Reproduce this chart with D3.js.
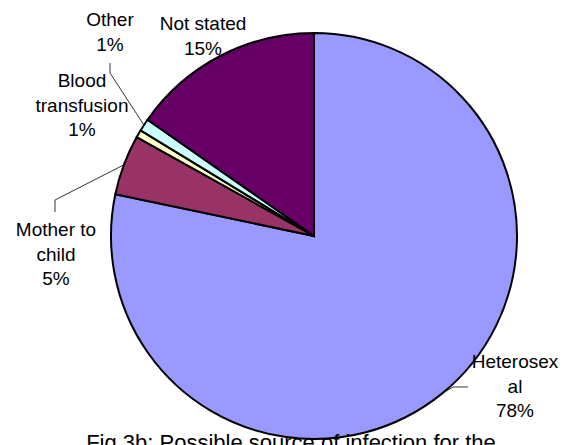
<!DOCTYPE html>
<html>
<head>
<meta charset="utf-8">
<script src="https://cdn.jsdelivr.net/npm/d3@7"></script>
<style>
  html, body { margin: 0; padding: 0; background: #fff; }
  svg { display: block; font-family: "Liberation Sans", Arial, sans-serif; }
</style>
</head>
<body>
<svg id="chart" width="574" height="445"></svg>
<script>
// Source of infection, share of cases (%)
const categories = ["Heterosexual", "Mother to child", "Blood transfusion", "Other", "Not stated"];
const shares = [78.3, 4.8, 0.6, 1.0, 15.3];
const colors = ["#9999FF", "#993366", "#FFFFCC", "#CCFFFF", "#660066"];
const labelLines = [["Heterosex", "al"], ["Mother to", "child"], ["Blood", "transfusion"], ["Other"], ["Not stated"]];
const caption = "Fig 3b: Possible source of infection for the";

const width = 574, height = 445;
const cx = 314, cy = 236, radius = 203;

// label placement: centre x, first baseline y, and optional leader elbow points
const labelLayout = [
  { x: 515, y: 368, leader: [[468, 387], [453, 387]] },
  { x: 56,  y: 236, leader: [[55, 212], [55, 200]] },
  { x: 82,  y: 87,  leader: null },
  { x: 110, y: 26,  leader: [[110, 63], [110, 73]] },
  { x: 203, y: 30,  leader: null }
];
const lineStep = 24.5;

const svg = d3.select("#chart");

const data = categories.map((c, i) => ({ name: c, value: shares[i], color: colors[i], i }));

const pie = d3.pie().sort(null).value(d => d.value).startAngle(0).endAngle(2 * Math.PI);
const arcs = pie(data);
const arc = d3.arc().innerRadius(0).outerRadius(radius);

const g = svg.append("g").attr("transform", `translate(${cx},${cy})`);

g.selectAll("path.slice")
  .data(arcs)
  .join("path")
  .attr("class", "slice")
  .attr("d", arc)
  .attr("fill", d => d.data.color)
  .attr("stroke", "#000")
  .attr("stroke-width", 2)
  .attr("stroke-linejoin", "miter");

// leader lines from label elbow to the slice's mid angle on the rim
arcs.forEach(a => {
  const lay = labelLayout[a.data.i];
  if (!lay.leader) return;
  const mid = (a.startAngle + a.endAngle) / 2;
  const rim = [cx + radius * Math.sin(mid), cy - radius * Math.cos(mid)];
  const pts = lay.leader.concat([rim]);
  svg.append("path")
    .attr("d", d3.line()(pts))
    .attr("fill", "none")
    .attr("stroke", "#000")
    .attr("stroke-width", 0.8);
});

// category labels with percentages
const fmt = v => Math.round(v) + "%";
arcs.forEach(a => {
  const lay = labelLayout[a.data.i];
  const lines = labelLines[a.data.i].concat([fmt(a.data.value)]);
  const t = svg.append("text")
    .attr("text-anchor", "middle")
    .attr("font-size", 19)
    .attr("fill", "#000");
  lines.forEach((ln, k) => {
    t.append("tspan").attr("x", lay.x).attr("y", lay.y + k * lineStep).text(ln);
  });
});

svg.append("text")
  .attr("x", 291)
  .attr("y", 450)
  .attr("text-anchor", "middle")
  .attr("font-size", 22)
  .attr("fill", "#000")
  .text(caption);
</script>
</body>
</html>
